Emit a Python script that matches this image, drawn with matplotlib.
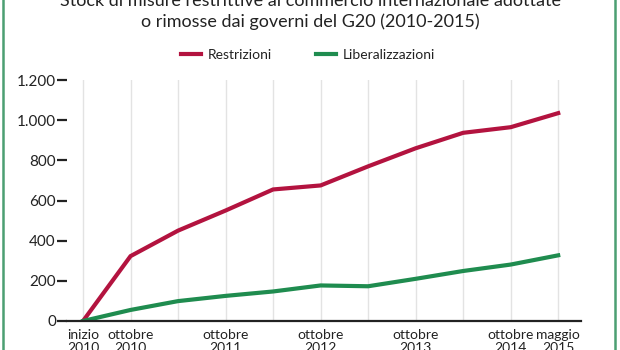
import matplotlib
matplotlib.use("Agg")
import matplotlib.pyplot as plt
from matplotlib.lines import Line2D
from matplotlib.ticker import FuncFormatter

plt.rcParams['font.family'] = ['Lato', 'DejaVu Sans']

# data
periods = list(range(11))
restrizioni = [0, 323, 450, 550, 655, 675, 770, 860, 937, 965, 1035]
liberalizzazioni = [0, 55, 99, 125, 147, 177, 173, 210, 249, 281, 327]
label_pos = [0, 1, 3, 5, 7, 9, 10]
label_txt = ["inizio\n2010", "ottobre\n2010", "ottobre\n2011", "ottobre\n2012",
             "ottobre\n2013", "ottobre\n2014", "maggio\n2015"]
y_ticks = [0, 200, 400, 600, 800, 1000, 1200]

RED = "#b3133f"
GREEN = "#1f8c4f"
TXT = "#222222"

fig = plt.figure(figsize=(6.2, 3.5), dpi=100)
ax = fig.add_axes([67 / 620, 1 - 321 / 350, 514 / 620, 241 / 350])

# vertical grid at each period
for p in periods:
    ax.axvline(p, color="#e3e3e3", lw=1, zorder=0)

ax.plot(periods, restrizioni, color=RED, lw=3, solid_joinstyle="miter", zorder=3)
ax.plot(periods, liberalizzazioni, color=GREEN, lw=3, solid_joinstyle="miter", zorder=3)

ax.set_xlim(-0.337, 10.48)
ax.set_ylim(0, 1200)
for s in ["top", "right", "left"]:
    ax.spines[s].set_visible(False)
ax.spines["bottom"].set_color("#222222")
ax.spines["bottom"].set_linewidth(1.6)
ax.spines["bottom"].set_zorder(4)

ax.set_yticks(y_ticks)
ax.yaxis.set_major_formatter(FuncFormatter(lambda v, _: f"{int(v):,}".replace(",", ".")))
ax.tick_params(axis="y", length=7, width=1.6, color="#222222", pad=1,
               labelsize=11, labelcolor=TXT)
ax.set_xticks(label_pos)
ax.set_xticklabels(label_txt, fontsize=10, color=TXT, linespacing=1.05)
ax.tick_params(axis="x", length=0, pad=6)

# title (top line is cropped in the original)
fig.text(0.5, 1 - 6 / 350, "Stock di misure restrittive al commercio internazionale adottate",
         ha="center", va="baseline", fontsize=13, color=TXT)
fig.text(0.5, 1 - 27 / 350, "o rimosse dai governi del G20 (2010-2015)",
         ha="center", va="baseline", fontsize=13, color=TXT)

handles = [Line2D([], [], color=RED, lw=3), Line2D([], [], color=GREEN, lw=3)]
fig.legend(handles, ["Restrizioni", "Liberalizzazioni"], loc="center",
           bbox_to_anchor=(0.497, 1 - 55 / 350), ncol=2, frameon=False,
           fontsize=10, handlelength=1.4, handletextpad=0.5, columnspacing=3.2,
           labelcolor=TXT)

# green frame on the sides
fig.add_artist(Line2D([2.5 / 620, 2.5 / 620], [0, 1], color="#4c9f72", lw=1.8))
fig.add_artist(Line2D([614.5 / 620, 614.5 / 620], [0, 1], color="#4c9f72", lw=1.8))

fig.savefig("out.png", dpi=100)
